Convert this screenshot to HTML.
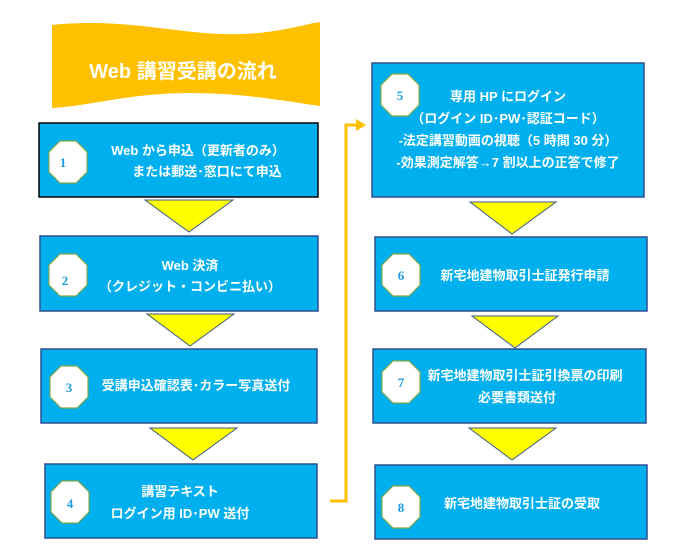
<!DOCTYPE html>
<html><head><meta charset="utf-8"><style>
html,body{margin:0;padding:0;background:#fff;}
svg{display:block}
text{font-family:"Liberation Sans","Noto Sans CJK JP",sans-serif;}
.t{fill:#fff;font-size:13px;font-weight:bold;text-anchor:middle}
.n{fill:#1e9be0;font-size:13px;font-weight:bold;text-anchor:middle;font-family:"Liberation Serif",serif}
.b{fill:#00b0ee;stroke:#2f4f8f;stroke-width:1.5}
.tri{fill:#ffff00;stroke:#3b5a8a;stroke-width:1}
.c{fill:#fff;stroke:#8aa84a;stroke-width:1.2}
</style></head><body>
<svg width="696" height="557" viewBox="0 0 696 557" xmlns="http://www.w3.org/2000/svg">
<path d="M52,25 C120,18 170,32 220,34 C270,36 300,25 320,22 L320,106 C280,100 240,93 190,93 C130,93 90,106 52,108 Z" fill="#ffc000"/>
<text x="183" y="78" style="fill:#fff;font-size:20px;font-weight:bold;text-anchor:middle">Web 講習受講の流れ</text>

<rect class="b" x="39" y="123" width="279" height="74" style="stroke:#000"/>
<polygon class="tri" points="145,200 233,200 189,232"/>
<rect class="b" x="40" y="236" width="278" height="75"/>
<polygon class="tri" points="147,314 234,314 190,346"/>
<rect class="b" x="41" y="349" width="276" height="74"/>
<polygon class="tri" points="150,428 237,428 193,460"/>
<rect class="b" x="45" y="464" width="272" height="74"/>

<rect class="b" x="372" y="63" width="272" height="134"/>
<polygon class="tri" points="470,202 556,202 512,234"/>
<rect class="b" x="375" y="237" width="272" height="74"/>
<polygon class="tri" points="472,316 558,316 515,348"/>
<rect class="b" x="373" y="349" width="273" height="74"/>
<polygon class="tri" points="469,428 556,428 512,460"/>
<rect class="b" x="375" y="465" width="272" height="74"/>

<polyline points="330,501 346,501 346,125 358,125" fill="none" stroke="#ffc000" stroke-width="3"/>
<polygon points="356,119 366,125 356,131" fill="#ffc000"/>

<g>
<polygon class="c" points="60,141 76,141 87,152 87,172 76,183 60,183 49,172 49,152"/>
<polygon class="c" points="60,254 76,254 87,265 87,285 76,296 60,296 49,285 49,265"/>
<polygon class="c" points="61,366 77,366 88,377 88,397 77,408 61,408 50,397 50,377"/>
<polygon class="c" points="62,481 78,481 89,492 89,512 78,523 62,523 51,512 51,492"/>
<polygon class="c" points="392,74 408,74 419,85 419,105 408,116 392,116 381,105 381,85"/>
<polygon class="c" points="393,254 409,254 420,265 420,285 409,296 393,296 382,285 382,265"/>
<polygon class="c" points="393,361 409,361 420,372 420,392 409,403 393,403 382,392 382,372"/>
<polygon class="c" points="393,486 409,486 420,497 420,517 409,528 393,528 382,517 382,497"/>
</g>
<text class="n" x="63" y="167">1</text>
<text class="n" x="65" y="285">2</text>
<text class="n" x="69" y="392">3</text>
<text class="n" x="70" y="508">4</text>
<text class="n" x="400" y="100">5</text>
<text class="n" x="401" y="280">6</text>
<text class="n" x="401" y="387">7</text>
<text class="n" x="401" y="512">8</text>

<text class="t" x="198" y="155">Web から申込（更新者のみ）</text>
<text class="t" x="207" y="176">または郵送･窓口にて申込</text>
<text class="t" x="190" y="270">Web 決済</text>
<text class="t" x="190" y="291">（クレジット・コンビニ払い）</text>
<text class="t" x="196" y="390">受講申込確認表･カラー写真送付</text>
<text class="t" x="180" y="496">講習テキスト</text>
<text class="t" x="180" y="518">ログイン用 ID･PW 送付</text>
<text class="t" x="508" y="101">専用 HP にログイン</text>
<text class="t" x="508" y="123">（ログイン ID･PW･認証コード）</text>
<text class="t" x="508" y="145">-法定講習動画の視聴（5 時間 30 分）</text>
<text class="t" x="508" y="167">-効果測定解答→7 割以上の正答で修了</text>
<text class="t" x="525" y="280">新宅地建物取引士証発行申請</text>
<text class="t" x="525" y="380">新宅地建物取引士証引換票の印刷</text>
<text class="t" x="517" y="402">必要書類送付</text>
<text class="t" x="522" y="508">新宅地建物取引士証の受取</text>
</svg>
</body></html>
